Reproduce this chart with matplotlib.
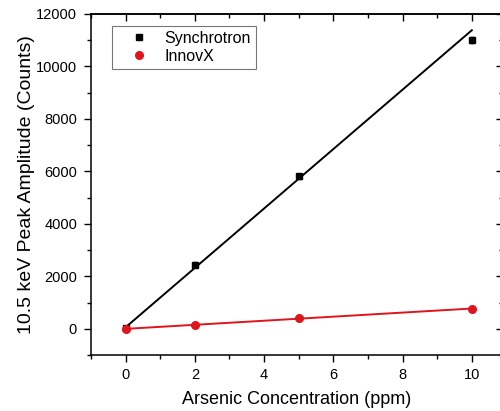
import matplotlib
matplotlib.use('Agg')
import matplotlib.pyplot as plt
from matplotlib.lines import Line2D

plt.rcParams['font.family'] = ['Liberation Sans', 'DejaVu Sans']

# 数据
conc = [0, 2, 5, 10]
sync_amp = [50, 2450, 5820, 11020]
sync_err = [40, 90, 90, 110]
innov_amp = [0, 150, 410, 770]

# 拟合线端点
fit_x = [0, 10]
sync_fit = [60, 11380]
innov_fit = [0, 775]

red = '#e0141e'

fig = plt.figure(figsize=(5.0, 4.11), dpi=100)
ax = fig.add_axes([0.182, 0.136, 1.006 - 0.182, 0.966 - 0.136])

ax.plot(fit_x, sync_fit, color='black', lw=1.4, zorder=2)
ax.plot(fit_x, innov_fit, color=red, lw=1.4, zorder=2)
ax.errorbar(conc, sync_amp, yerr=sync_err, fmt='s', color='black', ms=4.2,
            capsize=1.5, elinewidth=1, zorder=3)
ax.plot(conc, innov_amp, 'o', color=red, ms=5.5, zorder=4)

ax.set_xlim(-1, 10.9)
ax.set_ylim(-1000, 12000)
ax.set_xticks(range(0, 11, 2))
ax.set_xticks(range(-1, 11, 1), minor=True)
ax.set_yticks(range(0, 12001, 2000))
ax.set_yticks(range(-1000, 12001, 1000), minor=True)

ax.tick_params(which='major', direction='out', length=5, width=1, labelsize=10.5, pad=4)
ax.tick_params(axis='y', which='major', pad=5)
ax.tick_params(which='minor', direction='out', length=3, width=1)
for s in ax.spines.values():
    s.set_linewidth(1.1)

# 顶部和右侧的内向刻度
top = ax.secondary_xaxis('top')
top.set_xticks(range(0, 11, 2))
top.set_xticks(range(-1, 11, 1), minor=True)
top.tick_params(which='major', direction='in', length=5, width=1, labeltop=False)
top.tick_params(which='minor', direction='in', length=3, width=1)
right = ax.secondary_yaxis('right')
right.set_yticks(range(0, 12001, 2000))
right.set_yticks(range(-1000, 12001, 1000), minor=True)
right.tick_params(which='major', direction='in', length=5, width=1, labelright=False)
right.tick_params(which='minor', direction='in', length=3, width=1)
top.spines['top'].set_linewidth(1.1)
right.spines['right'].set_linewidth(1.1)

ax.set_xlabel('Arsenic Concentration (ppm)', fontsize=13, labelpad=7)
ax.set_ylabel('10.5 keV Peak Amplitude (Counts)', fontsize=14, labelpad=1)

handles = [Line2D([], [], marker='s', ls='none', color='black', ms=4.2),
           Line2D([], [], marker='o', ls='none', color=red, ms=5.5)]
leg = ax.legend(handles, ['Synchrotron', 'InnovX'], loc='upper left',
                bbox_to_anchor=(0.051, 0.965), fontsize=11.5,
                frameon=True, fancybox=False, edgecolor='#555555',
                handlelength=2.8, handletextpad=0.2, borderpad=0.3,
                labelspacing=0.2, borderaxespad=0)
leg.get_frame().set_linewidth(0.8)

fig.savefig('out.png', dpi=100)
